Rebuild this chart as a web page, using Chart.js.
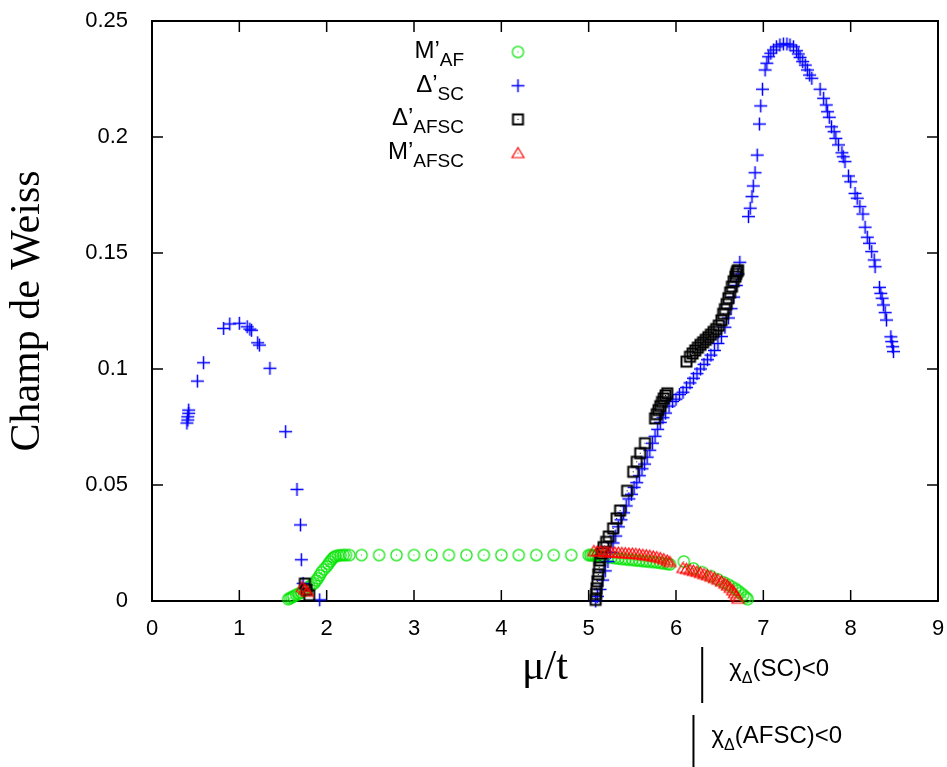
<!DOCTYPE html>
<html>
<head>
<meta charset="utf-8">
<title>Champ de Weiss</title>
<script src="https://cdn.jsdelivr.net/npm/chart.js@4.4.1/dist/chart.umd.min.js"></script>
<style>
    html, body { margin: 0; padding: 0; background: #fff; }
    canvas { display: block; }
</style>
</head>
<body>
<canvas id="weissChart" width="947" height="767"></canvas>
<script>
// Values: [mu/t, champ de Weiss]
const mAF = [
    [1.56,0.0008],[1.58,0.0012],[1.60,0.0016],[1.62,0.0020],[1.65,0.0026],[1.68,0.0031],[1.71,0.0037],
    [1.74,0.0045],[1.77,0.0053],[1.80,0.0062],[1.83,0.0069],[1.86,0.0077],[1.88,0.0088],[1.90,0.0098],
    [1.92,0.0110],[1.94,0.0124],[1.97,0.0137],[2.00,0.0149],[2.02,0.0160],[2.04,0.0170],[2.06,0.0180],
    [2.08,0.0188],[2.10,0.0193],[2.13,0.0196],[2.16,0.0197],[2.19,0.0198],[2.22,0.0198],[2.26,0.0198],
    [2.40,0.0198],[2.60,0.0198],[2.80,0.0198],[3.00,0.0198],[3.20,0.0198],[3.40,0.0198],[3.60,0.0198],
    [3.80,0.0198],[4.00,0.0198],[4.20,0.0198],[4.40,0.0198],[4.60,0.0198],[4.80,0.0198],[5.00,0.0198],
    [5.02,0.0198],[5.04,0.0197],[5.06,0.0197],[5.08,0.0196],[5.10,0.0195],[5.14,0.0193],[5.18,0.0191],
    [5.22,0.0189],[5.26,0.0187],[5.30,0.0185],[5.34,0.0183],[5.38,0.0181],[5.42,0.0180],[5.46,0.0178],
    [5.50,0.0177],[5.54,0.0175],[5.58,0.0174],[5.62,0.0172],[5.66,0.0171],[5.70,0.0169],[5.74,0.0168],
    [5.78,0.0166],[5.82,0.0164],[5.86,0.0162],[5.90,0.0160],[5.93,0.0158],[6.09,0.0170],[6.20,0.0140],
    [6.30,0.0124],[6.40,0.0107],[6.48,0.0093],[6.55,0.0080],[6.60,0.0070],[6.64,0.0061],[6.68,0.0052],
    [6.71,0.0044],[6.74,0.0035],[6.77,0.0026],[6.80,0.0016],[6.82,0.0008]
];

const deltaSC = [
    // low mu/t dome
    [0.42,0.0823],[0.42,0.0809],[0.41,0.0794],[0.41,0.0780],[0.40,0.0767],[0.52,0.0948],[0.59,0.1027],
    [0.82,0.1175],[0.89,0.1194],[1.00,0.1197],[1.09,0.1182],[1.12,0.1172],[1.14,0.1167],[1.21,0.1113],
    [1.23,0.1103],[1.35,0.1003],[1.53,0.0730],[1.66,0.0481],[1.70,0.0328],[1.71,0.0178],[1.73,0.0076],
    [1.92,0.0005],
    // rising branch
    [5.08,0.0000],[5.10,0.0020],[5.13,0.0050],[5.16,0.0090],[5.19,0.0130],[5.22,0.0170],[5.25,0.0210],
    [5.28,0.0250],[5.31,0.0280],[5.34,0.0320],[5.37,0.0350],[5.40,0.0380],[5.43,0.0410],[5.46,0.0440],
    [5.49,0.0460],[5.52,0.0490],[5.55,0.0510],[5.58,0.0540],[5.61,0.0570],[5.64,0.0590],[5.67,0.0620],
    [5.70,0.0650],[5.73,0.0680],[5.76,0.0710],[5.79,0.0740],[5.82,0.0770],[5.85,0.0790],[5.88,0.0810],
    [5.92,0.0840],[5.96,0.0860],[6.00,0.0870],[6.04,0.0890],[6.08,0.0900],[6.12,0.0920],[6.16,0.0940],
    [6.20,0.0960],[6.24,0.0980],[6.28,0.1000],[6.32,0.1020],[6.36,0.1040],[6.40,0.1060],[6.44,0.1080],
    [6.48,0.1110],[6.52,0.1140],[6.56,0.1180],[6.60,0.1220],[6.63,0.1260],[6.66,0.1310],[6.69,0.1360],
    [6.71,0.1410],[6.73,0.1460],
    // high dome
    [6.83,0.1657],[6.85,0.1693],[6.87,0.1743],[6.885,0.1789],[6.905,0.1846],[6.93,0.1922],[6.955,0.2056],
    [6.97,0.2134],[6.99,0.2206],[7.02,0.2289],[7.04,0.2318],[7.06,0.2346],[7.085,0.2361],[7.115,0.2375],
    [7.15,0.2389],[7.19,0.2397],[7.23,0.2401],[7.27,0.2401],[7.305,0.2397],[7.345,0.2389],[7.38,0.2372],
    [7.40,0.2358],[7.42,0.2343],[7.45,0.2325],[7.48,0.2310],[7.505,0.2289],[7.53,0.2267],[7.555,0.2253],
    [7.65,0.2206],[7.69,0.2167],[7.72,0.2138],[7.735,0.2109],[7.755,0.2085],[7.78,0.2044],[7.81,0.2023],
    [7.83,0.1994],[7.86,0.1966],[7.90,0.1932],[7.915,0.1915],[7.935,0.1894],[7.975,0.1832],[8.00,0.1807],
    [8.05,0.1757],[8.075,0.1736],[8.105,0.1700],[8.14,0.1668],[8.165,0.1611],[8.19,0.1568],[8.215,0.1542],
    [8.24,0.1506],[8.27,0.1470],[8.28,0.1441],[8.33,0.1352],[8.345,0.1326],[8.36,0.1305],[8.375,0.1276],
    [8.395,0.1243],[8.41,0.1211],[8.46,0.1139],[8.47,0.1118],[8.48,0.1096],[8.49,0.1075]
];

const deltaAFSC = [
    [1.75,0.0075],[1.77,0.0048],[1.80,0.0025],
    [5.08,0.0005],[5.085,0.0030],[5.09,0.0055],[5.10,0.0085],[5.11,0.0115],[5.12,0.0145],[5.13,0.0175],
    [5.15,0.0205],[5.17,0.0232],[5.20,0.0255],[5.23,0.0278],[5.28,0.0313],[5.32,0.0356],[5.36,0.0390],
    [5.44,0.0475],[5.51,0.0557],[5.55,0.0600],[5.59,0.0637],[5.645,0.0680],[5.76,0.0787],[5.78,0.0805],
    [5.80,0.0823],[5.82,0.0840],[5.84,0.0858],[5.86,0.0873],[5.88,0.0886],[5.90,0.0895],
    [6.12,0.1032],[6.16,0.1053],[6.19,0.1067],[6.22,0.1080],[6.25,0.1092],[6.28,0.1104],[6.31,0.1115],
    [6.34,0.1126],[6.37,0.1137],[6.40,0.1148],[6.43,0.1160],[6.46,0.1172],[6.49,0.1187],[6.52,0.1210],
    [6.54,0.1238],[6.56,0.1258],[6.58,0.1280],[6.60,0.1305],[6.62,0.1330],[6.64,0.1355],[6.66,0.1378],
    [6.68,0.1398],[6.69,0.1410],[6.70,0.1420],[6.71,0.1426]
];

const mAFSC = [
    [1.72,0.0060],[1.75,0.0050],[1.78,0.0040],
    [5.06,0.0215],[5.10,0.0214],[5.14,0.0213],[5.18,0.0212],[5.22,0.0211],[5.26,0.0210],[5.30,0.0209],
    [5.34,0.0208],[5.38,0.0207],[5.42,0.0206],[5.46,0.0205],[5.50,0.0204],[5.54,0.0203],[5.58,0.0201],
    [5.62,0.0199],[5.66,0.0197],[5.70,0.0195],[5.74,0.0192],[5.78,0.0189],[5.82,0.0185],[5.86,0.0180],
    [5.90,0.0174],[5.93,0.0168],
    [6.08,0.0142],[6.12,0.0138],[6.16,0.0134],[6.20,0.0130],[6.24,0.0126],[6.28,0.0121],[6.32,0.0116],
    [6.36,0.0111],[6.40,0.0105],[6.44,0.0099],[6.48,0.0092],[6.52,0.0084],[6.56,0.0075],[6.59,0.0067],
    [6.62,0.0057],[6.65,0.0046],[6.67,0.0034],[6.69,0.0022],[6.71,0.0010]
];

const xTicks = [0, 1, 2, 3, 4, 5, 6, 7, 8, 9];
const yTicks = [0, 0.05, 0.1, 0.15, 0.2, 0.25];
const yTickLabels = ['0', '0.05', '0.1', '0.15', '0.2', '0.25'];

// where the susceptibilities turn negative (marks below the axis)
const chiSCLimit = 6.3;
const chiAFSCLimit = 6.2;

const SANS = "'Liberation Sans', Arial, sans-serif";
const SERIF = "'Liberation Serif', 'Times New Roman', serif";

// gnuplot-like point symbols
function makeMarker(draw) {
    const c = document.createElement('canvas');
    c.width = 17;
    c.height = 17;
    draw(c.getContext('2d'), 8.5, 8.5);
    return c;
}

const circleMark = makeMarker((g, cx, cy) => {
    g.strokeStyle = '#00e400';
    g.lineWidth = 1.2;
    g.beginPath();
    g.arc(cx, cy, 5.6, 0, Math.PI * 2);
    g.stroke();
    g.fillStyle = '#00e400';
    g.fillRect(cx - 0.5, cy - 0.5, 1, 1);
});

const crossMark = makeMarker((g, cx, cy) => {
    g.strokeStyle = '#0000ff';
    g.lineWidth = 1.5;
    g.beginPath();
    g.moveTo(cx - 6.5, cy); g.lineTo(cx + 6.5, cy);
    g.moveTo(cx, cy - 6.5); g.lineTo(cx, cy + 6.5);
    g.stroke();
});

const squareMark = makeMarker((g, cx, cy) => {
    g.strokeStyle = '#000';
    g.lineWidth = 2;
    g.strokeRect(cx - 5, cy - 5, 10, 10);
    g.fillStyle = '#000';
    g.fillRect(cx - 0.5, cy - 0.5, 1, 1);
});

const triangleMark = makeMarker((g, cx, cy) => {
    g.strokeStyle = '#ff0000';
    g.lineWidth = 1.2;
    g.beginPath();
    g.moveTo(cx, cy - 5.5);
    g.lineTo(cx + 6, cy + 4.5);
    g.lineTo(cx - 6, cy + 4.5);
    g.closePath();
    g.stroke();
    g.fillStyle = '#ff0000';
    g.fillRect(cx - 0.5, cy - 0.5, 1, 1);
});

const toPoints = arr => arr.map(p => ({ x: p[0], y: p[1] }));

const legendRows = [
    { main: 'M\u2019', sub: 'AF', mark: circleMark },
    { main: '\u0394\u2019', sub: 'SC', mark: crossMark },
    { main: '\u0394\u2019', sub: 'AFSC', mark: squareMark },
    { main: 'M\u2019', sub: 'AFSC', mark: triangleMark }
];

// Frame, inward ticks, legend with subscripts and the chi annotations
const gnuplotDecor = {
    id: 'gnuplotDecor',
    beforeDatasetsDraw(chart) {
        const { ctx, chartArea: a, scales: { x, y } } = chart;
        ctx.save();
        ctx.strokeStyle = '#000';
        ctx.lineWidth = 2;
        ctx.strokeRect(a.left, a.top, a.right - a.left, a.bottom - a.top);
        ctx.lineWidth = 1.5;
        ctx.beginPath();
        xTicks.forEach(v => {
            const px = x.getPixelForValue(v);
            ctx.moveTo(px, a.bottom); ctx.lineTo(px, a.bottom - 11);
            ctx.moveTo(px, a.top); ctx.lineTo(px, a.top + 11);
        });
        yTicks.forEach(v => {
            const py = y.getPixelForValue(v);
            ctx.moveTo(a.left, py); ctx.lineTo(a.left + 11, py);
            ctx.moveTo(a.right, py); ctx.lineTo(a.right - 11, py);
        });
        ctx.stroke();
        ctx.restore();
    },
    afterDraw(chart) {
        const { ctx, chartArea: a, scales: { x } } = chart;
        ctx.save();
        ctx.fillStyle = '#000';
        ctx.textBaseline = 'alphabetic';

        // legend
        const textRight = a.left + 312;
        const markX = a.left + 366;
        legendRows.forEach((row, i) => {
            const base = a.top + 37 + i * 33.7;
            ctx.font = '19px ' + SANS;
            const subW = ctx.measureText(row.sub).width;
            ctx.textAlign = 'left';
            ctx.fillText(row.sub, textRight - subW, base + 8);
            ctx.font = '24px ' + SANS;
            ctx.textAlign = 'right';
            ctx.fillText(row.main, textRight - subW, base);
            ctx.drawImage(row.mark, markX - row.mark.width / 2, base - 6 - row.mark.height / 2);
        });

        // chi < 0 markers under the axis
        const drawChi = (limit, y0, y1, dx, base, tail) => {
            const px = x.getPixelForValue(limit);
            ctx.strokeStyle = '#000';
            ctx.lineWidth = 2;
            ctx.beginPath();
            ctx.moveTo(px, y0);
            ctx.lineTo(px, y1);
            ctx.stroke();
            ctx.textAlign = 'left';
            let tx = px + dx;
            ctx.font = '24px ' + SANS;
            ctx.fillText('\u03c7', tx, base);
            tx += ctx.measureText('\u03c7').width;
            ctx.font = '16px ' + SANS;
            ctx.fillText('\u0394', tx, base + 7);
            tx += ctx.measureText('\u0394').width;
            ctx.font = '24px ' + SANS;
            ctx.fillText(tail, tx, base);
        };
        drawChi(chiSCLimit, 647, 703, 27, 676, '(SC)<0');
        drawChi(chiAFSCLimit, 715, 767, 18, 743, '(AFSC)<0');
        ctx.restore();
    }
};

document.addEventListener('DOMContentLoaded', () => {
    const ctx = document.getElementById('weissChart').getContext('2d');

    new Chart(ctx, {
        type: 'scatter',
        data: {
            datasets: [
                { label: 'M\u2019AF', data: toPoints(mAF), pointStyle: circleMark, order: 4 },
                { label: '\u0394\u2019SC', data: toPoints(deltaSC), pointStyle: crossMark, order: 3 },
                { label: '\u0394\u2019AFSC', data: toPoints(deltaAFSC), pointStyle: squareMark, order: 2 },
                { label: 'M\u2019AFSC', data: toPoints(mAFSC), pointStyle: triangleMark, order: 1 }
            ]
        },
        options: {
            responsive: false,
            animation: false,
            layout: {
                padding: { top: 21, right: 9, left: 0, bottom: 0 }
            },
            datasets: {
                scatter: { clip: false, pointRadius: 7, pointHoverRadius: 7, showLine: false }
            },
            plugins: {
                legend: { display: false },
                tooltip: { enabled: false }
            },
            scales: {
                x: {
                    type: 'linear',
                    min: 0,
                    max: 9,
                    afterBuildTicks: scale => { scale.ticks = xTicks.map(v => ({ value: v })); },
                    afterFit: scale => {
                        scale.height = 166;
                        scale.paddingLeft = 0;
                        scale.paddingRight = 0;
                    },
                    grid: { display: false, drawTicks: false },
                    border: { display: false },
                    ticks: {
                        color: '#000',
                        font: { family: SANS, size: 22 },
                        padding: 15,
                        maxRotation: 0,
                        autoSkip: false,
                        callback: v => String(v)
                    },
                    title: {
                        display: true,
                        text: '\u03bc/t',
                        color: '#000',
                        font: { family: SERIF, size: 42 },
                        padding: { top: 0, bottom: 74 }
                    }
                },
                y: {
                    type: 'linear',
                    min: 0,
                    max: 0.25,
                    afterBuildTicks: scale => { scale.ticks = yTicks.map(v => ({ value: v })); },
                    afterFit: scale => {
                        scale.width = 152;
                        scale.paddingTop = 0;
                        scale.paddingBottom = 0;
                    },
                    grid: { display: false, drawTicks: false },
                    border: { display: false },
                    ticks: {
                        color: '#000',
                        font: { family: SANS, size: 22 },
                        padding: 24,
                        autoSkip: false,
                        callback: v => yTickLabels[yTicks.indexOf(v)]
                    },
                    title: {
                        display: true,
                        text: 'Champ de Weiss',
                        color: '#000',
                        font: { family: SERIF, size: 42 },
                        padding: { top: 3, bottom: 0 }
                    }
                }
            }
        },
        plugins: [gnuplotDecor]
    });
});
</script>
</body>
</html>
